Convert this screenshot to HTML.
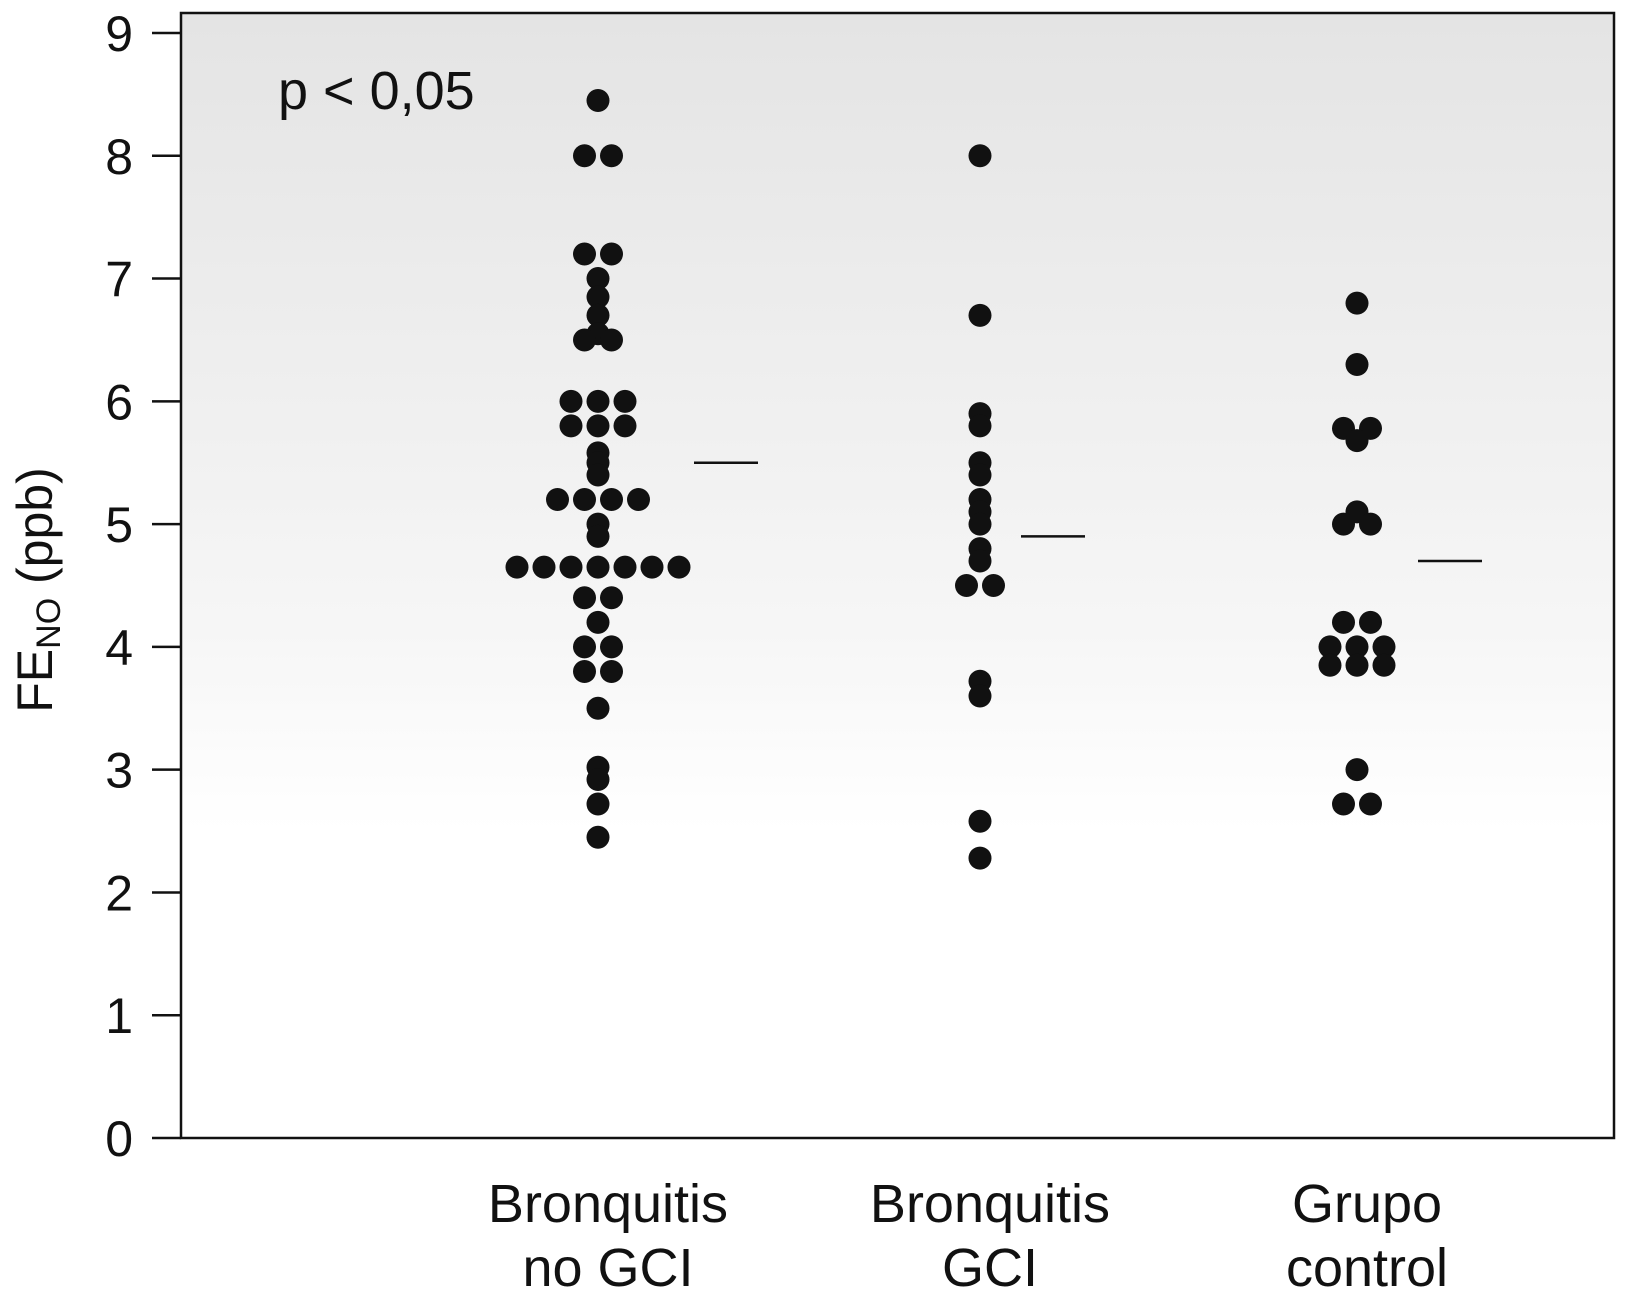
<!DOCTYPE html>
<html><head><meta charset="utf-8">
<style>body{margin:0;background:#fff}svg{display:block;font-family:"Liberation Sans",sans-serif}</style>
</head><body>
<svg id="chart" width="1629" height="1305" viewBox="0 0 1629 1305">
<defs>
<linearGradient id="bg" x1="0" y1="0" x2="0" y2="1">
<stop offset="0" stop-color="#e4e4e4"/>
<stop offset="0.75" stop-color="#f6f6f6"/>
<stop offset="1" stop-color="#ffffff"/>
</linearGradient>
</defs>
<g id="plot"></g>
</svg>
<script>
const categories = ["Bronquitis|no GCI", "Bronquitis|GCI", "Grupo|control"];
const yTicks = [0,1,2,3,4,5,6,7,8,9];
const medians = [5.5, 4.9, 4.7];
// each point: [value, horizontal slot offset]
const group1 = [[8.45,0],[8.0,-0.5],[8.0,0.5],[7.2,-0.5],[7.2,0.5],[7.0,0],[6.85,0],[6.7,0],[6.55,0],[6.5,-0.5],[6.5,0.5],
[6.0,-1],[6.0,0],[6.0,1],[5.8,-1],[5.8,0],[5.8,1],[5.58,0],[5.5,0],[5.4,0],[5.2,-1.5],[5.2,-0.5],[5.2,0.5],[5.2,1.5],
[5.0,0],[4.9,0],[4.65,-3],[4.65,-2],[4.65,-1],[4.65,0],[4.65,1],[4.65,2],[4.65,3],[4.4,-0.5],[4.4,0.5],[4.2,0],
[4.0,-0.5],[4.0,0.5],[3.8,-0.5],[3.8,0.5],[3.5,0],[3.02,0],[2.92,0],[2.72,0],[2.45,0]];
const group2 = [[8.0,0],[6.7,0],[5.9,0],[5.8,0],[5.5,0],[5.4,0],[5.2,0],[5.1,0],[5.0,0],[4.8,0],[4.7,0],[4.5,-0.5],[4.5,0.5],[3.72,0],[3.6,0],[2.58,0],[2.28,0]];
const group3 = [[6.8,0],[6.3,0],[5.78,-0.5],[5.78,0.5],[5.68,0],[5.1,0],[5.0,-0.5],[5.0,0.5],[4.2,-0.5],[4.2,0.5],[4.0,-1],[4.0,0],[4.0,1],[3.85,-1],[3.85,0],[3.85,1],[3.0,0],[2.72,-0.5],[2.72,0.5]];
const groups = [group1, group2, group3];

const L=181, R=1614, T=13, B=1138, Y9=33, yMax=9;
const centers=[598,980,1357], slot=27, medOff=[96,41,61];
const y = v => B - v*(B-Y9)/yMax;
const x = (g,o) => centers[g] + o*slot;
const NS="http://www.w3.org/2000/svg";
const plot=document.getElementById('plot');
function mk(tag,attrs){const e=document.createElementNS(NS,tag);for(const k in attrs)e.setAttribute(k,attrs[k]);plot.appendChild(e);return e;}

let bg=mk('rect',{x:L,y:T,width:R-L,height:y(2.5)-T,fill:'url(#bg)'});


let frame=mk('rect',{x:L,y:T,width:R-L,height:B-T,fill:'none',stroke:'#111','stroke-width':2.5});



yTicks.forEach(t=>{
  let tk=mk('line',{x1:152,x2:L,y1:y(t),y2:y(t),stroke:'#111','stroke-width':2.5});
  
  
  let lb=mk('text',{x:133,y:y(t)+18,'text-anchor':'end','font-size':50,fill:'#111'});
  lb.textContent=t;
  
  
});

groups.forEach((pts,g)=>{
  pts.forEach(p=>{
    let c=mk('circle',{cx:x(g,p[1]),cy:y(p[0]),r:11.5,fill:'#111'});
    
    
  });
  let m=mk('line',{x1:centers[g]+medOff[g],x2:centers[g]+medOff[g]+64,y1:y(medians[g]),y2:y(medians[g]),stroke:'#111','stroke-width':2.5});
  
  
  const parts=categories[g].split('|');
  parts.forEach((s,i)=>{
    let t=mk('text',{x:centers[g]+10,y:1222+i*64,'text-anchor':'middle','font-size':54,fill:'#111'});
    t.textContent=s;
    
    
  });
});

let p=mk('text',{x:278,y:109,'font-size':54,fill:'#111'});
p.textContent='p < 0,05';



let yt=mk('text',{transform:'translate(52,590) rotate(-90)','text-anchor':'middle','font-size':50,fill:'#111'});
yt.innerHTML='FE<tspan font-size="34" dy="8">NO</tspan><tspan dy="-8"> (ppb)</tspan>';


</script>
</body></html>
